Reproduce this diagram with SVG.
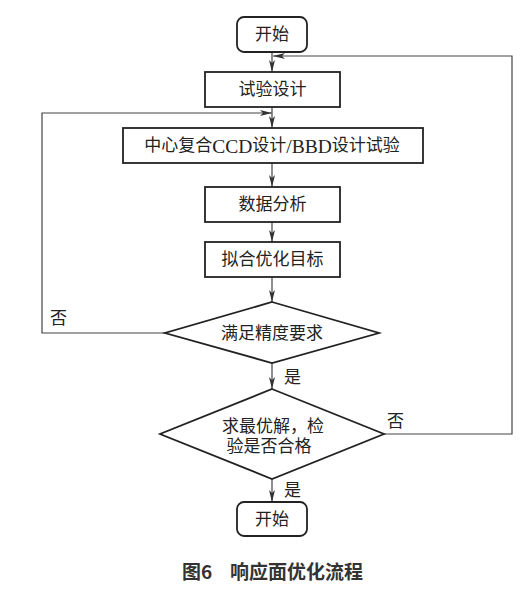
<svg xmlns="http://www.w3.org/2000/svg" width="530" height="592" viewBox="0 0 530 592">
<style>
.box{fill:#fff;stroke:#222;stroke-width:1.8}
.t{font-family:"Liberation Serif","Noto Sans CJK SC",serif;font-size:17px;fill:#222;text-anchor:middle;dominant-baseline:central}
.lat{font-size:19.5px}
.lbl{font-family:"Liberation Serif","Noto Sans CJK SC",serif;font-size:17px;fill:#222;dominant-baseline:central}
.ln{fill:none;stroke:#444;stroke-width:1.2}
.cap{font-family:"Noto Sans CJK SC",sans-serif;font-size:19px;font-weight:bold;fill:#333;dominant-baseline:central}
</style>
<defs>
<marker id="ah" viewBox="0 0 12 6" refX="12" refY="3" markerWidth="12" markerHeight="6" markerUnits="userSpaceOnUse" orient="auto">
<path d="M0,0 L12,3 L0,6 L3,3 Z" fill="#333"/>
</marker>
</defs>
<rect width="530" height="592" fill="#fff"/>
<g id="connectors">
<line class="ln" x1="272" y1="52" x2="272" y2="72" marker-end="url(#ah)"/>
<line class="ln" x1="272" y1="107" x2="272" y2="128" marker-end="url(#ah)"/>
<line class="ln" x1="272" y1="163" x2="272" y2="187" marker-end="url(#ah)"/>
<line class="ln" x1="272" y1="222" x2="272" y2="242" marker-end="url(#ah)"/>
<line class="ln" x1="272" y1="277" x2="272" y2="302" marker-end="url(#ah)"/>
<line class="ln" x1="272" y1="363" x2="272" y2="389" marker-end="url(#ah)"/>
<line class="ln" x1="272" y1="479" x2="272" y2="502" marker-end="url(#ah)"/>
<polyline class="ln" points="165,333 42,333 42,113 272,113" marker-end="url(#ah)"/>
<polyline class="ln" points="384,434 512,434 512,56 273,56" marker-end="url(#ah)"/>
<text class="lbl" x="50" y="318">否</text>
<text class="lbl" x="284" y="377">是</text>
<text class="lbl" x="387" y="421">否</text>
<text class="lbl" x="284" y="490">是</text>
</g>
<g id="start">
<rect class="box" x="237" y="17" width="70" height="35" rx="7"/>
<text class="t" x="272" y="34.5">开始</text>
</g>
<g id="design">
<rect class="box" x="205" y="72" width="135" height="35"/>
<text class="t" x="272.5" y="89.5">试验设计</text>
</g>
<g id="ccd">
<rect class="box" x="123" y="128" width="300" height="35"/>
<text class="t" x="272" y="145.5">中心复合<tspan class="lat">CCD</tspan>设计<tspan class="lat">/BBD</tspan>设计试验</text>
</g>
<g id="analysis">
<rect class="box" x="205" y="187" width="135" height="35"/>
<text class="t" x="272.5" y="204.5">数据分析</text>
</g>
<g id="fit">
<rect class="box" x="205" y="242" width="135" height="35"/>
<text class="t" x="272.5" y="259.5">拟合优化目标</text>
</g>
<g id="precision">
<polygon class="box" points="272,302 379,333 272,363 165,333"/>
<text class="t" x="272" y="333">满足精度要求</text>
</g>
<g id="optimum">
<polygon class="box" points="272,389 384,434 272,479 160,434"/>
<text class="t" x="273" y="426">求最优解，检</text>
<text class="t" x="269" y="446">验是否合格</text>
</g>
<g id="end">
<rect class="box" x="237" y="502" width="70" height="34" rx="7"/>
<text class="t" x="272" y="519">开始</text>
</g>
<g id="caption">
<text class="cap" x="182" y="570">图6</text>
<text class="cap" x="230" y="570">响应面优化流程</text>
</g>
</svg>
